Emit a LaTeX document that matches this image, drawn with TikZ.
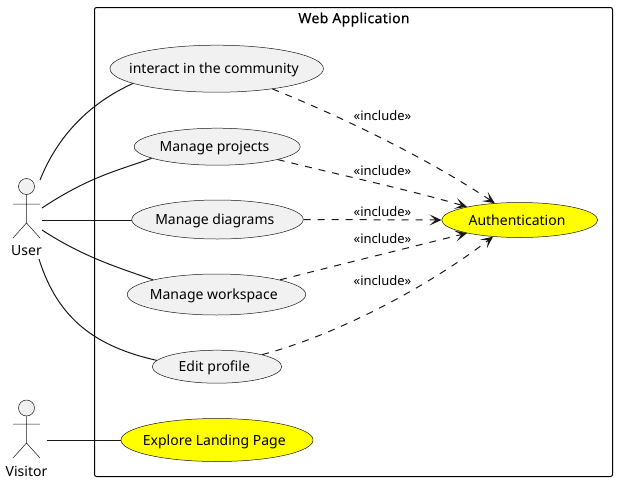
\documentclass[tikz,border=0pt]{standalone}
\usepackage{fontspec}
\setmainfont{Noto Sans}
\newfontfamily\titlefont[FakeBold=0.35,LetterSpace=2.5]{Noto Sans}
\usetikzlibrary{shapes.geometric,arrows.meta}
\definecolor{ln}{HTML}{181818}
\definecolor{ucfill}{HTML}{F1F1F1}
\definecolor{ucyellow}{HTML}{FFFF00}
\newcommand{\uctext}[1]{\makebox[0pt][c]{\hspace{-5.4pt}\smash{\raisebox{-5.2pt}{#1}}}}
\tikzset{
  x=1pt,y=-1pt,
  txt/.style={font=\fontsize{14}{16}\selectfont,text=black},
  uc/.style n args={3}{ellipse,draw=ln,line width=0.5pt,fill=#3,inner sep=0pt,minimum width=#1pt,minimum height=#2pt,font=\fontsize{14}{16}\selectfont,text=black},
  incl/.style={font=\fontsize{13}{15}\selectfont,text=black,inner sep=0pt},
  assoc/.style={draw=ln,line width=1pt},
  dep/.style={draw=ln,line width=1pt,dash pattern=on 7pt off 7pt,-{Stealth[length=12pt,width=11pt,inset=6pt]}},
  stick/.style={draw=ln,line width=0.5pt},
  head/.style={circle,draw=ln,line width=0.5pt,fill=ucfill,minimum size=16pt,inner sep=0pt},
  frame/.style={draw=black,line width=1pt,rounded corners=2pt},
}
\begin{document}
\begin{tikzpicture}
\useasboundingbox (0,0) rectangle (618,482);
\fill[white] (0,0) rectangle (618,482);
\draw[frame] (94.5,7.5) rectangle (612.5,476.5);
\node[font=\fontsize{14}{16}\titlefont,text=black] (title) at (354,19.5) {Web Application};
% use cases
\node[uc={213.5}{47}{ucfill}] (community) at (216.7,68.7) {\uctext{interact in the community}};
\node[uc={166}{37}{ucfill}] (projects) at (217.2,146.7) {\uctext{Manage projects}};
\node[uc={171.5}{39}{ucfill}] (diagrams) at (217.5,219.5) {\uctext{Manage diagrams}};
\node[uc={178.5}{41}{ucfill}] (workspace) at (216.5,294.5) {\uctext{Manage workspace}};
\node[uc={129.5}{33}{ucfill}] (profile) at (217,366.7) {\uctext{Edit profile}};
\node[uc={192}{43}{ucyellow}] (landing) at (217,440) {\uctext{Explore Landing Page}};
\node[uc={156}{35}{ucyellow}] (auth) at (519.7,220) {\uctext{Authentication}};
% actors
\node[head] (userhead) at (26.5,186.5) {};
\coordinate (userbody) at (26.5,223);
\coordinate (userarml) at (13,204);
\coordinate (userarmr) at (40,204);
\coordinate (userlegl) at (13,238);
\coordinate (userlegr) at (40,238);
\draw[stick] (userhead.south) -- (userbody) -- (userlegl) (userbody) -- (userlegr) (userarml) -- (userarmr);
\node[txt,inner sep=0pt] (user) at (26.5,250.5) {User};
\node[head] (visitorhead) at (26.5,408) {};
\coordinate (visitorbody) at (26.5,443);
\coordinate (visitorarml) at (13,424);
\coordinate (visitorarmr) at (40,424);
\coordinate (visitorlegl) at (13,458);
\coordinate (visitorlegr) at (40,458);
\draw[stick] (visitorhead.south) -- (visitorbody) -- (visitorlegl) (visitorbody) -- (visitorlegr) (visitorarml) -- (visitorarmr);
\node[txt,inner sep=0pt] (visitor) at (26.5,471.5) {Visitor};
% actor ports
\coordinate (ua) at (40,180);
\coordinate (ub) at (42,208);
\coordinate (uc) at (42,220);
\coordinate (ud) at (42,230);
\coordinate (ue) at (39,259);
\coordinate (va) at (47,440);
% associations
\draw[assoc] (ua) .. controls (58,135) and (90,103) .. (community.190.1);
\draw[assoc] (ub) .. controls (90,176) and (120,170) .. (projects.190.9);
\draw[assoc] (uc) -- (diagrams.west|-uc);
\draw[assoc] (ud) .. controls (85,258) and (120,268) .. (workspace.167.1);
\draw[assoc] (ue) .. controls (58,320) and (97,347) .. (profile.174.5);
\draw[assoc] (va) -- (landing.180);
% includes
\draw[dep] (community.-20.3) .. controls (345,118) and (430,160) .. (auth.146);
\draw[dep] (projects.-12.3) .. controls (340,175) and (410,190) .. (auth.166);
\draw[dep] (diagrams.0) -- (auth.180);
\draw[dep] (workspace.13.3) .. controls (340,264.5) and (405,248.6) .. (auth.194);
\draw[dep] (profile.15.4) .. controls (340,334) and (430,285) .. (auth.212);
% labels
\node[incl] (l1) at (382.5,116) {«include»};
\node[incl] (l2) at (382.5,171) {«include»};
\node[incl] (l3) at (382.5,212) {«include»};
\node[incl] (l4) at (382.5,239) {«include»};
\node[incl] (l5) at (382.5,281) {«include»};
\end{tikzpicture}
\end{document}
